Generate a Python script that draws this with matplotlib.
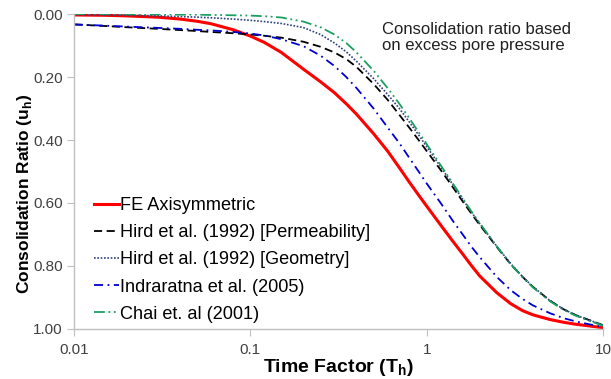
import numpy as np
import matplotlib
matplotlib.use('Agg')
import matplotlib.pyplot as plt
from matplotlib.ticker import FixedLocator, FixedFormatter, NullLocator

plt.rcParams['font.family'] = ['Liberation Sans', 'DejaVu Sans']
plt.rcParams['mathtext.fontset'] = 'custom'
plt.rcParams['mathtext.rm'] = 'Liberation Sans'
plt.rcParams['mathtext.bf'] = 'Liberation Sans:bold'

# Фактор часу T_h (спільна сітка для всіх кривих)
t_h = [0.01, 0.015, 0.02, 0.03, 0.04, 0.05, 0.06, 0.08, 0.1, 0.12, 0.15,
       0.2, 0.25, 0.3, 0.35, 0.4, 0.5, 0.6, 0.7, 0.8, 0.9, 1.0, 1.2, 1.4,
       1.6, 1.8, 2.0, 2.5, 3.0, 3.5, 4.0, 5.0, 6.0, 7.0, 8.0, 10.0]

# Коефіцієнт консолідації u_h
u_fe = [0.003, 0.004, 0.006, 0.010, 0.016, 0.023, 0.031, 0.050, 0.070,
        0.090, 0.122, 0.175, 0.215, 0.250, 0.285, 0.318, 0.380, 0.435,
        0.488, 0.535, 0.575, 0.610, 0.670, 0.720, 0.762, 0.800, 0.832,
        0.885, 0.920, 0.942, 0.955, 0.970, 0.979, 0.985, 0.989, 0.996]

u_perm = [0.033, 0.038, 0.042, 0.047, 0.051, 0.054, 0.057, 0.061, 0.065,
          0.069, 0.075, 0.088, 0.104, 0.122, 0.143, 0.168, 0.222, 0.272,
          0.320, 0.362, 0.400, 0.435, 0.495, 0.548, 0.595, 0.635, 0.670,
          0.740, 0.795, 0.835, 0.866, 0.910, 0.938, 0.956, 0.968, 0.988]

u_geom = [0.002, 0.003, 0.004, 0.006, 0.008, 0.010, 0.012, 0.016, 0.020,
          0.024, 0.030, 0.043, 0.065, 0.092, 0.120, 0.150, 0.205, 0.255,
          0.300, 0.344, 0.384, 0.421, 0.485, 0.540, 0.588, 0.630, 0.666,
          0.738, 0.793, 0.834, 0.866, 0.910, 0.938, 0.956, 0.968, 0.988]

u_ind = [0.033, 0.037, 0.040, 0.044, 0.047, 0.050, 0.052, 0.057, 0.062,
         0.068, 0.080, 0.102, 0.132, 0.165, 0.200, 0.235, 0.300, 0.360,
         0.410, 0.458, 0.500, 0.538, 0.600, 0.655, 0.700, 0.740, 0.772,
         0.835, 0.877, 0.905, 0.925, 0.950, 0.966, 0.976, 0.983, 0.994]

u_chai = [0.000, 0.000, 0.001, 0.001, 0.002, 0.002, 0.003, 0.004, 0.005,
          0.007, 0.011, 0.024, 0.042, 0.065, 0.092, 0.122, 0.180, 0.235,
          0.285, 0.332, 0.375, 0.413, 0.480, 0.536, 0.585, 0.628, 0.664,
          0.738, 0.795, 0.836, 0.868, 0.912, 0.940, 0.958, 0.970, 0.990]

x_ticks = [0.01, 0.1, 1, 10]
x_labels = ['0.01', '0.1', '1', '10']
y_ticks = [0.0, 0.2, 0.4, 0.6, 0.8, 1.0]


def main():
    fig = plt.figure(figsize=(6.11, 3.79), dpi=100)
    ax = fig.add_axes([0.121, 0.132, 0.866, 0.831])

    ax.plot(t_h, u_fe, color='#FF0000', lw=2.2, label='FE Axisymmetric')
    ax.plot(t_h, u_perm, color='black', lw=1.3, linestyle=(0, (4.5, 2.5)),
            label='Hird et al. (1992) [Permeability]')
    ax.plot(t_h, u_geom, color='#2F3F7F', lw=1.2, linestyle=(0, (1, 1)),
            label='Hird et al. (1992) [Geometry]')
    ax.plot(t_h, u_ind, color='#0000D0', lw=1.3,
            linestyle=(0, (5, 2.5, 1, 2.5)), label='Indraratna et al. (2005)')
    ax.plot(t_h, u_chai, color='#1AA060', lw=1.3,
            linestyle=(0, (6, 2, 1, 2, 1, 2)), label='Chai et. al (2001)')

    ax.set_xscale('log')
    ax.set_xlim(0.01, 10)
    ax.set_ylim(1.0, 0.0)
    ax.xaxis.set_major_locator(FixedLocator(x_ticks))
    ax.xaxis.set_major_formatter(FixedFormatter(x_labels))
    ax.xaxis.set_minor_locator(NullLocator())
    ax.set_yticks(y_ticks)
    ax.set_yticklabels(['%.2f' % v for v in y_ticks])

    for s in ['top', 'right']:
        ax.spines[s].set_visible(False)
    for s in ['left', 'bottom']:
        ax.spines[s].set_color('#BFBFBF')
        ax.spines[s].set_linewidth(1.0)
    ax.tick_params(axis='both', colors='#BFBFBF', labelcolor='#404040',
                   labelsize=11, length=5, direction='out', pad=3)
    ax.tick_params(axis='x', pad=5)

    ax.set_xlabel(r'Time Factor (T$_\mathbf{h}$)', fontsize=14,
                  fontweight='bold')
    ax.set_ylabel(r'Consolidation Ratio (u$_\mathbf{h}$)', fontsize=12.5,
                  fontweight='bold')
    ax.xaxis.set_label_coords(0.5, -0.088)
    ax.yaxis.set_label_coords(-0.076, 0.43)

    ax.text(0.583, 0.975, 'Consolidation ratio based\non excess pore pressure',
            transform=ax.transAxes, fontsize=12, color='#202020',
            va='top', ha='left', linespacing=1.1)

    ax.legend(loc='lower left', bbox_to_anchor=(0.018, -0.015), frameon=False,
              fontsize=13.1, handlelength=1.35, handletextpad=0.08,
              labelspacing=0.56, borderaxespad=0.2)

    fig.savefig('out.png', dpi=100)


if __name__ == "__main__":
    main()
